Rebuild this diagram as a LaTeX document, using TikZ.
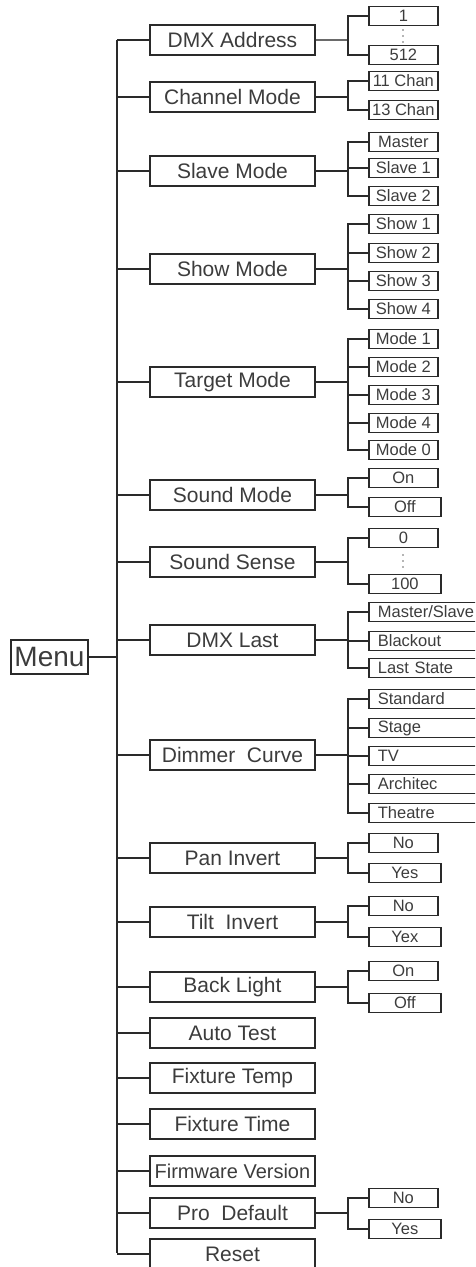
\documentclass[tikz,border=0pt]{standalone}
\usepackage{fontspec}
\setmainfont{Liberation Sans}
\definecolor{ink}{HTML}{2A2A2A}
\definecolor{txt}{HTML}{3C3C3C}
\begin{document}
\begin{tikzpicture}[x=1pt,y=-1pt,
  conn/.style={draw=ink, line width=1.8pt},
  lone/.style={draw=ink, line width=1.9pt, minimum width=165pt, minimum height=30pt, inner sep=0pt, text=txt, font=\fontsize{21}{24}\selectfont, anchor=west},
  ltwo/.style={draw=ink, line width=1.7pt, minimum width=69pt, minimum height=19pt, inner sep=0pt, text=txt, font=\fontsize{16.5}{18}\selectfont, anchor=west},
  ltwow/.style={ltwo, minimum width=72pt},
  ltwol/.style={ltwo, text width=115pt, align=left, inner xsep=9pt},
  dotm/.style={fill=ink!70}]
\useasboundingbox (0,0) rectangle (475,1267);
\clip (0,0) rectangle (475,1267);
\coordinate (ttop) at (117,40);
\coordinate (tbot) at (117,1253);
\coordinate (bus) at (348,0);

% Menu
\node[draw=ink, line width=1.9pt, minimum width=77pt, minimum height=34pt, inner sep=0pt, text=txt, font=\fontsize{28}{32}\selectfont, anchor=west] (menu) at (10,657) {Menu};
\draw[conn] (ttop) -- (tbot);
\draw[conn] (menu.east) -- (menu.east -| ttop);

% level one
\foreach \n/\y/\t in {a/40/DMX Address, b/97/Channel Mode, c/171/Slave Mode, d/269/Show Mode, e/382/Target Mode, f/495/Sound Mode, g/562/Sound Sense, h/640/DMX Last, i/755/Dimmer\ \ Curve, j/858/Pan Invert, k/922/Tilt\ \ Invert, l/987/Back Light, m/1033/Auto Test, n/1078/Fixture Temp, o/1124/Fixture Time, p/1171/{\fontsize{20}{24}\selectfont Firmware Version}, q/1213/Pro\ \ Default, r/1254/Reset}{
  \node[lone] (\n) at (149,\y) {\t};
  \draw[conn] (\n.west) -- (\n.west -| ttop);
}

% DMX Address
\node[ltwo] (a1) at (368,16) {1};
\node[ltwo] (a2) at (368,55) {512};
\draw[draw=ink!70, line width=1.8pt] (a.east) -- (a.east -| bus);
\draw[conn] (a1.west) -| (bus |- a2.west) -- (a2.west);
\fill[dotm] (403,30) circle (0.9) (403,36) circle (0.9) (403,42) circle (0.9);

% Channel Mode
\node[ltwo] (b1) at (368,81) {11 Chan};
\node[ltwo] (b2) at (368,110) {13 Chan};
\draw[conn] (b.east) -- (b.east -| bus);
\draw[conn] (b1.west) -| (bus |- b2.west) -- (b2.west);

% Slave Mode
\node[ltwo] (c1) at (368,142) {Master};
\node[ltwo] (c2) at (368,168) {Slave 1};
\node[ltwo] (c3) at (368,196) {Slave 2};
\draw[conn] (c.east) -- (c.east -| bus);
\draw[conn] (c1.west) -| (bus |- c3.west) -- (c3.west);
\draw[conn] (c2.west) -- (c2.west -| bus);

% Show Mode
\node[ltwo] (d1) at (368,224) {Show 1};
\node[ltwo] (d2) at (368,253) {Show 2};
\node[ltwo] (d3) at (368,281) {Show 3};
\node[ltwo] (d4) at (368,309) {Show 4};
\draw[conn] (d.east) -- (d.east -| bus);
\draw[conn] (d1.west) -| (bus |- d4.west) -- (d4.west);
\draw[conn] (d2.west) -- (d2.west -| bus);
\draw[conn] (d3.west) -- (d3.west -| bus);

% Target Mode
\node[ltwo] (e1) at (368,339) {Mode 1};
\node[ltwo] (e2) at (368,367) {Mode 2};
\node[ltwo] (e3) at (368,395) {Mode 3};
\node[ltwo] (e4) at (368,423) {Mode 4};
\node[ltwo] (e5) at (368,450) {Mode 0};
\draw[conn] (e.east) -- (e.east -| bus);
\draw[conn] (e1.west) -| (bus |- e5.west) -- (e5.west);
\draw[conn] (e2.west) -- (e2.west -| bus);
\draw[conn] (e3.west) -- (e3.west -| bus);
\draw[conn] (e4.west) -- (e4.west -| bus);

% Sound Mode
\node[ltwo] (f1) at (368,478) {On};
\node[ltwow] (f2) at (368,507) {Off};
\draw[conn] (f.east) -- (f.east -| bus);
\draw[conn] (f1.west) -| (bus |- f2.west) -- (f2.west);

% Sound Sense
\node[ltwo] (g1) at (368,538) {0};
\node[ltwow] (g2) at (368,584) {100};
\draw[conn] (g.east) -- (g.east -| bus);
\draw[conn] (g1.west) -| (bus |- g2.west) -- (g2.west);
\fill[dotm] (403,555) circle (0.9) (403,561) circle (0.9) (403,567) circle (0.9);

% DMX Last
\node[ltwol] (h1) at (368,612) {Master/Slave};
\node[ltwol] (h2) at (368,641) {Blackout};
\node[ltwol] (h3) at (368,668) {Last State};
\draw[conn] (h.east) -- (h.east -| bus);
\draw[conn] (h1.west) -| (bus |- h3.west) -- (h3.west);
\draw[conn] (h2.west) -- (h2.west -| bus);

% Dimmer Curve
\node[ltwol] (i1) at (368,699) {Standard};
\node[ltwol] (i2) at (368,728) {Stage};
\node[ltwol] (i3) at (368,756) {TV};
\node[ltwol] (i4) at (368,784) {Architec};
\node[ltwol] (i5) at (368,813) {Theatre};
\draw[conn] (i.east) -- (i.east -| bus);
\draw[conn] (i1.west) -| (bus |- i5.west) -- (i5.west);
\draw[conn] (i2.west) -- (i2.west -| bus);
\draw[conn] (i3.west) -- (i3.west -| bus);
\draw[conn] (i4.west) -- (i4.west -| bus);

% Pan Invert
\node[ltwo] (j1) at (368,843) {No};
\node[ltwow] (j2) at (368,873) {Yes};
\draw[conn] (j.east) -- (j.east -| bus);
\draw[conn] (j1.west) -| (bus |- j2.west) -- (j2.west);

% Tilt Invert
\node[ltwo] (k1) at (368,906) {No};
\node[ltwow] (k2) at (368,937) {Yex};
\draw[conn] (k.east) -- (k.east -| bus);
\draw[conn] (k1.west) -| (bus |- k2.west) -- (k2.west);

% Back Light
\node[ltwo] (l1) at (368,971) {On};
\node[ltwow] (l2) at (368,1003) {Off};
\draw[conn] (l.east) -- (l.east -| bus);
\draw[conn] (l1.west) -| (bus |- l2.west) -- (l2.west);

% Pro Default
\node[ltwo] (q1) at (368,1198) {No};
\node[ltwow] (q2) at (368,1229) {Yes};
\draw[conn] (q.east) -- (q.east -| bus);
\draw[conn] (q1.west) -| (bus |- q2.west) -- (q2.west);
\end{tikzpicture}
\end{document}
